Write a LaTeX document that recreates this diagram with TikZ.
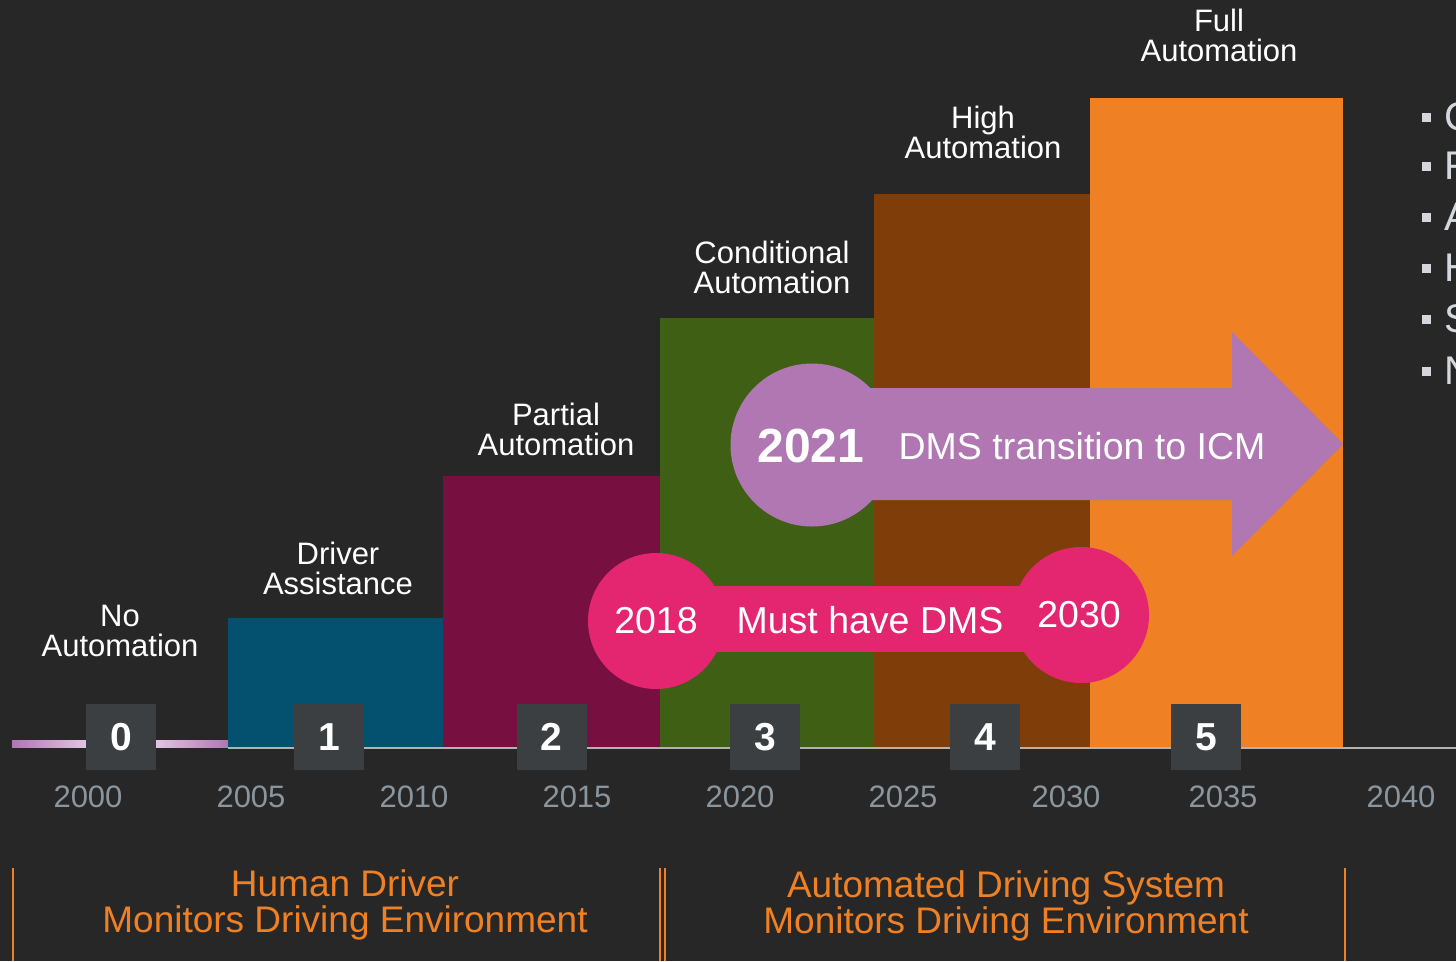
\documentclass[tikz,border=0pt]{standalone}
\usepackage{fontspec}
\setmainfont{Liberation Sans}
\definecolor{bg}{HTML}{272727}
\definecolor{barA}{HTML}{04506F}
\definecolor{barB}{HTML}{771040}
\definecolor{barC}{HTML}{3E5F14}
\definecolor{barD}{HTML}{7F3D0A}
\definecolor{barE}{HTML}{EF8023}
\definecolor{pill}{HTML}{E3266F}
\definecolor{lilac}{HTML}{B077B3}
\definecolor{lilaclt}{HTML}{E2C4E2}
\definecolor{boxgray}{HTML}{3B3F42}
\definecolor{yeargray}{HTML}{8A959E}
\definecolor{bulletgray}{HTML}{D4D8DC}
\definecolor{orangetxt}{HTML}{EF8023}
\tikzset{
  levelbar/.style={fill=#1, draw=none},
  levellabel/.style={text=white, align=center, inner sep=0pt, font=\fontsize{31}{30}\selectfont},
  numbox/.style={fill=boxgray, text=white, minimum width=70pt, minimum height=66pt, inner sep=0pt, font=\fontsize{39}{39}\selectfont\bfseries},
  yearlabel/.style={text=yeargray, inner sep=0pt, font=\fontsize{31}{31}\selectfont},
  phaselabel/.style={text=orangetxt, align=center, inner sep=0pt, font=\fontsize{37}{36}\selectfont},
  phaseline/.style={draw=orangetxt, line width=2pt},
  pilltext/.style={text=white, inner sep=0pt, font=\fontsize{37.5}{37}\selectfont},
  bulletsq/.style={fill=bulletgray, minimum size=9pt, inner sep=0pt},
  bullettext/.style={text=bulletgray, inner sep=0pt, anchor=west, font=\fontsize{40}{40}\selectfont}
}
\begin{document}
\begin{tikzpicture}[x=1pt,y=-1pt]
\useasboundingbox (0,0) rectangle (1456,961);
\fill[bg] (0,0) rectangle (1456,961);
\clip (0,0) rectangle (1456,961);

% axis
\draw[line width=2pt, draw=gray!60] (228,748) -- (1456,748);
\shade[left color=lilac, right color=lilaclt] (12,740) rectangle (86,747);
\shade[left color=lilaclt, right color=lilac] (156,740) rectangle (228,747);

% bars
\fill[levelbar=barA] (228,618) rectangle (443,747);
\fill[levelbar=barB] (443,476) rectangle (660,747);
\fill[levelbar=barC] (660,318) rectangle (874,747);
\fill[levelbar=barD] (874,194) rectangle (1090,747);
\fill[levelbar=barE] (1090,98) rectangle (1343,747);

% level labels
\node[levellabel] (l0) at (120,631) {No\\Automation};
\node[levellabel] (l1) at (338,568) {Driver\\Assistance};
\node[levellabel] (l2) at (556,429) {Partial\\Automation};
\node[levellabel] (l3) at (772,267) {Conditional\\Automation};
\node[levellabel] (l4) at (983,132) {High\\Automation};
\node[levellabel] (l5) at (1219,35) {Full\\Automation};

% number boxes
\node[numbox] (n0) at (121,737) {0};
\node[numbox] (n1) at (329,737) {1};
\node[numbox] (n2) at (551.5,737) {2};
\node[numbox] (n3) at (765,737) {3};
\node[numbox] (n4) at (985,737) {4};
\node[numbox] (n5) at (1206,737) {5};

% years
\node[yearlabel] (y2000) at (88,797) {2000};
\node[yearlabel] (y2005) at (251,797) {2005};
\node[yearlabel] (y2010) at (414,797) {2010};
\node[yearlabel] (y2015) at (577,797) {2015};
\node[yearlabel] (y2020) at (740,797) {2020};
\node[yearlabel] (y2025) at (903,797) {2025};
\node[yearlabel] (y2030) at (1066,797) {2030};
\node[yearlabel] (y2035) at (1223,797) {2035};
\node[yearlabel] (y2040) at (1401,797) {2040};

% purple arrow
\fill[lilac] (812,445) circle (81.5);
\fill[lilac] (850,388) -- (1232,388) -- (1232,332) -- (1343,444) -- (1232,556) -- (1232,500) -- (850,500) -- cycle;
\node[text=white, inner sep=0pt, font=\fontsize{48}{48}\selectfont\bfseries] (t2021) at (811,446) {2021};
\node[pilltext] (tdms) at (1082,446) {DMS transition to ICM};

% pink pill
\fill[pill] (700,586) rectangle (1040,652);
\fill[pill] (656,621) circle (68);
\fill[pill] (1081,615) circle (68);
\node[pilltext] (t2018) at (656,621) {2018};
\node[pilltext] (tmust) at (870,620) {Must have DMS};
\node[pilltext] (t2030) at (1079,615) {2030};

% phase labels
\node[phaselabel] (ph1) at (345,905) {Human Driver\\Monitors Driving Environment};
\node[phaselabel] (ph2) at (1006,906) {Automated Driving System\\Monitors Driving Environment};
\draw[phaseline] (13,868) -- (13,961);
\draw[phaseline] (660,868) -- (660,961);
\draw[phaseline] (665,868) -- (665,961);
\draw[phaseline] (1345,868) -- (1345,961);

% bullets at right edge
\foreach \yy/\ll [count=\i] in {117/C,166/F,217/A,268/H,319/S,371/N}{
  \node[bulletsq] (b\i) at (1426,\yy) {};
  \node[bullettext] (bt\i) at (1444,\yy) {\ll};
}
\end{tikzpicture}
\end{document}
